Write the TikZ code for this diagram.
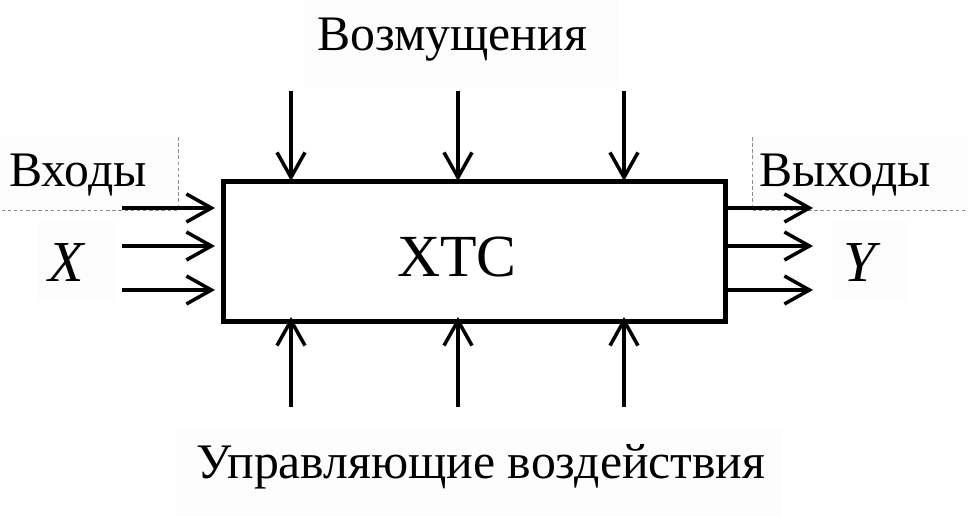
\documentclass[tikz,border=0pt]{standalone}
\usepackage{fontspec}
\setmainfont{Liberation Serif}
\usetikzlibrary{arrows.meta}
\definecolor{bgtext}{HTML}{FDFDFD}
\begin{document}
\begin{tikzpicture}[x=0.02cm,y=-0.02cm,
  flow/.style={line width=2pt,-{Straight Barb[length=0.5cm,width=0.56cm,line width=2pt]}},
  lbl/.style={font=\fontsize{28.3}{31}\selectfont,inner sep=0pt},
  guide/.style={draw=black!45,line width=0.4pt,dash pattern=on 2pt off 1.5pt}]
\useasboundingbox (0,0) rectangle (968,516);
% faint text backgrounds
\fill[bgtext] (304,0) rectangle (618,87);
\fill[bgtext] (0,137) rectangle (178,210);
\fill[bgtext] (752,137) rectangle (968,210);
\fill[bgtext] (38,222) rectangle (115,302);
\fill[bgtext] (833,222) rectangle (907,302);
\fill[bgtext] (176,427) rectangle (782,516);
% guide lines
\draw[guide] (178,137) -- (178,210) -- (0,210);
\draw[guide] (752,137) -- (752,210) -- (968,210);
% main box
\node[draw,line width=2.9pt,minimum width=502*0.02cm,minimum height=140*0.02cm,anchor=north west,inner sep=0pt]
  (sys) at (221,179) {};
\node[font=\fontsize{34}{38}\selectfont] (name) at (457,257) {ХТС};
% labels
\node[lbl] (dist) at (452,40) {Возмущения};
\node[lbl] (inp) at (78,175) {Входы};
\node[lbl] (outp) at (845,175) {Выходы};
\node[lbl] (ctrl) at (481,467) {Управляющие воздействия};
\node[font=\fontsize{33}{37}\selectfont\itshape] (X) at (66,263) {X};
\node[font=\fontsize{33}{37}\selectfont\itshape] (Y) at (860,263) {Y};
% top and bottom arrows
\foreach \i/\x in {1/291,2/458,3/624}{
  \coordinate (t\i) at (\x,91);
  \coordinate (tb\i) at (\x,181);
  \draw[flow] (t\i) -- (tb\i);
  \coordinate (b\i) at (\x,407);
  \coordinate (bb\i) at (\x,317);
  \draw[flow] (b\i) -- (bb\i);
}
% left / right arrows
\foreach \i/\y in {1/208,2/246,3/290}{
  \coordinate (l\i) at (122,\y);
  \coordinate (lb\i) at (215,\y);
  \draw[flow] (l\i) -- (lb\i);
  \coordinate (r\i) at (723,\y);
  \coordinate (re\i) at (813,\y);
  \draw[flow] (r\i) -- (re\i);
}
\end{tikzpicture}
\end{document}
